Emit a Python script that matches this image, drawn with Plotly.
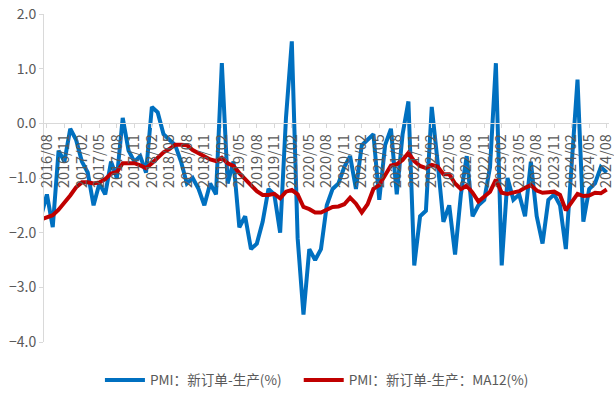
import plotly.graph_objects as go
import pandas as pd

months = list(pd.date_range("2016-07-01", periods=98, freq="MS").strftime("%Y/%m"))

pmi_diff = [
    -1.7, -1.3, -1.9, -0.5, -0.7, -0.1,
    -0.3, -0.7, -0.9, -1.5, -1.1, -1.3, -0.7, -1.0, 0.1, -0.5, -0.7, -0.6,
    -0.9, 0.3, 0.2, -0.2, -0.3, -0.4, -0.7, -1.1, -1.0, -1.2, -1.5, -1.1,
    -1.3, 1.1, -1.1, -0.7, -1.9, -1.7, -2.3, -2.2, -1.8, -1.2, -1.3, -2.0,
    0.1, 1.5, -2.1, -3.5, -2.3, -2.5, -2.3, -1.5, -1.2, -1.1, -0.8, -0.6,
    -1.2, -0.4, -0.3, -0.2, -1.4, -0.4, -0.1, -1.3, -0.2, 0.4, -2.6, -1.7,
    -1.6, 0.3, -0.7, -1.8, -1.5, -2.4, -1.3, -0.6, -1.7, -1.5, -1.4, -0.8,
    1.1, -2.6, -1.0, -1.4, -1.3, -1.7, -0.7, -1.7, -2.2, -1.4, -1.3, -1.5,
    -2.3, -0.8, 0.8, -1.8, -1.2, -1.1, -0.8, -0.9,
]

pmi_ma12 = [
    -1.76, -1.72, -1.68, -1.58, -1.46, -1.32,
    -1.17, -1.08, -1.08, -1.10, -1.08, -1.02, -0.92, -0.89, -0.73, -0.73, -0.73, -0.77,
    -0.82, -0.73, -0.64, -0.53, -0.47, -0.39, -0.39, -0.40, -0.49, -0.55, -0.62, -0.66,
    -0.69, -0.63, -0.73, -0.78, -0.91, -1.02, -1.15, -1.24, -1.31, -1.31, -1.29, -1.37,
    -1.25, -1.22, -1.30, -1.53, -1.57, -1.63, -1.63, -1.58, -1.53, -1.52, -1.48, -1.36,
    -1.47, -1.63, -1.48, -1.20, -1.13, -0.95, -0.77, -0.75, -0.67, -0.54, -0.69, -0.78,
    -0.82, -0.76, -0.79, -0.93, -0.93, -1.10, -1.20, -1.14, -1.27, -1.43, -1.33, -1.25,
    -1.03, -1.27, -1.29, -1.26, -1.24, -1.18, -1.13, -1.23, -1.27, -1.26, -1.25, -1.31,
    -1.59, -1.44, -1.29, -1.33, -1.32, -1.27, -1.28, -1.21,
]

tick_labels = [
    "2016/08", "2016/11", "2017/02", "2017/05", "2017/08", "2017/11",
    "2018/02", "2018/05", "2018/08", "2018/11", "2019/02", "2019/05",
    "2019/08", "2019/11", "2020/02", "2020/05", "2020/08", "2020/11",
    "2021/02", "2021/05", "2021/08", "2021/11", "2022/02", "2022/05",
    "2022/08", "2022/11", "2023/02", "2023/05", "2023/08", "2023/11",
    "2024/02", "2024/05", "2024/08",
]

y_ticks = [2, 1, 0, -1, -2, -3, -4]

name_blue = "PMI：新订单-生产(%)"
name_red = "PMI：新订单-生产：MA12(%)"

FONT = "Noto Sans CJK SC"
GREY = "#595959"
AXIS = "#D9D9D9"

fig = go.Figure()
fig.add_trace(go.Scatter(
    x=months, y=pmi_diff, mode="lines", name=name_blue + "\u00a0" * 4,
    line=dict(color="#0070C0", width=4), hoverinfo="skip",
))
fig.add_trace(go.Scatter(
    x=months, y=pmi_ma12, mode="lines", name=name_red,
    line=dict(color="#C00000", width=4), hoverinfo="skip",
))

fig.update_layout(
    width=614, height=393,
    margin=dict(l=44, r=5, t=14, b=51, autoexpand=False),
    paper_bgcolor="white", plot_bgcolor="white",
    font=dict(family=FONT, color=GREY, size=14),
    showlegend=True,
    legend=dict(
        orientation="h", x=0.099, xanchor="left", y=-0.116, yanchor="middle",
        font=dict(family=FONT, size=13.6, color=GREY),
        itemwidth=40, bgcolor="rgba(0,0,0,0)",
        traceorder="normal",
    ),
    xaxis=dict(
        type="category", range=[0.5, 97.4],
        tickmode="array", tickvals=tick_labels, ticktext=tick_labels,
        tickangle=-90, anchor="free", position=4 / 6,
        showline=True, linecolor=AXIS, linewidth=1,
        ticks="outside", ticklen=4, tickcolor=AXIS,
        showgrid=False, zeroline=False,
        tickfont=dict(family=FONT, size=14.5, color=GREY),
    ),
    yaxis=dict(
        range=[-4, 2], tickmode="array", tickvals=y_ticks,
        tickformat=".1f", showgrid=False, zeroline=False,
        showline=True, linecolor=AXIS, linewidth=1,
        ticks="outside", ticklen=4, tickcolor=AXIS,
        tickfont=dict(family=FONT, size=14, color=GREY),
    ),
)

fig.write_html("out.html")
